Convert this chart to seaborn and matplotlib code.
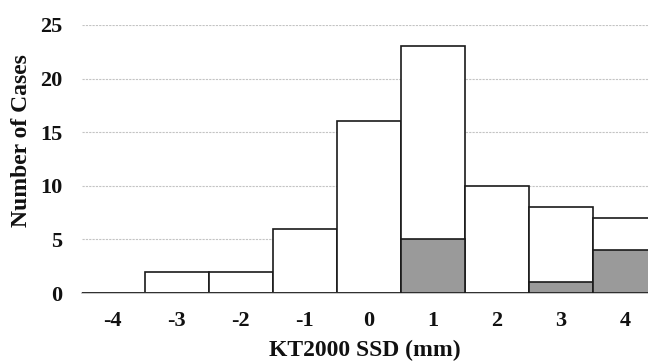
import matplotlib
matplotlib.use("Agg")
import matplotlib.pyplot as plt
import seaborn as sns
import pandas as pd

# KT2000 SSD histogram data
ssd_mm = ["-4", "-3", "-2", "-1", "0", "1", "2", "3", "4"]
total_cases = [0, 2, 2, 6, 16, 23, 10, 8, 7]
shaded_cases = [0, 0, 0, 0, 0, 5, 0, 1, 4]

data = pd.DataFrame({"SSD": ssd_mm, "Total": total_cases, "Shaded": shaded_cases})

sns.set_theme(style="white")
plt.rcParams["font.family"] = ["Liberation Serif", "DejaVu Serif"]
plt.rcParams["font.weight"] = "bold"

fig = plt.figure(figsize=(6.48, 3.62), dpi=100)
ax = fig.add_axes([0.1265, 0.1906, 0.8735, 0.7404])

sns.barplot(data=data, x="SSD", y="Total", order=ssd_mm, color="white",
            edgecolor="#1a1a1a", linewidth=1.2, width=1.0, saturation=1, ax=ax, zorder=2)
sns.barplot(data=data, x="SSD", y="Shaded", order=ssd_mm, color="#9a9a9a",
            edgecolor="#1a1a1a", linewidth=1.2, width=1.0, saturation=1, ax=ax, zorder=3)

ax.set_ylim(0, 25)
ax.set_xlim(-0.48, 8.36)
ax.set_yticks([0, 5, 10, 15, 20, 25])
ax.yaxis.grid(True, linestyle=(0, (2, 1)), color="#c4c4c4", linewidth=0.8, zorder=0)
ax.set_axisbelow(True)
for side in ["top", "right", "left"]:
    ax.spines[side].set_visible(False)
ax.spines["bottom"].set_color("#bbbbbb")
ax.spines["bottom"].set_linewidth(1.2)
ax.tick_params(axis="both", length=0, labelsize=16, labelcolor="#111111")
ax.tick_params(axis="x", pad=13)
ax.tick_params(axis="y", pad=14)
for lbl in ax.get_xticklabels() + ax.get_yticklabels():
    lbl.set_fontweight("bold")
ax.set_xlabel("KT2000 SSD (mm)", fontsize=17, fontweight="bold", labelpad=6, color="#111111")
ax.set_ylabel("Number of Cases", fontsize=17, fontweight="bold", color="#111111")
ax.yaxis.set_label_coords(-0.088, 0.567)

fig.savefig("out.png", dpi=100)
